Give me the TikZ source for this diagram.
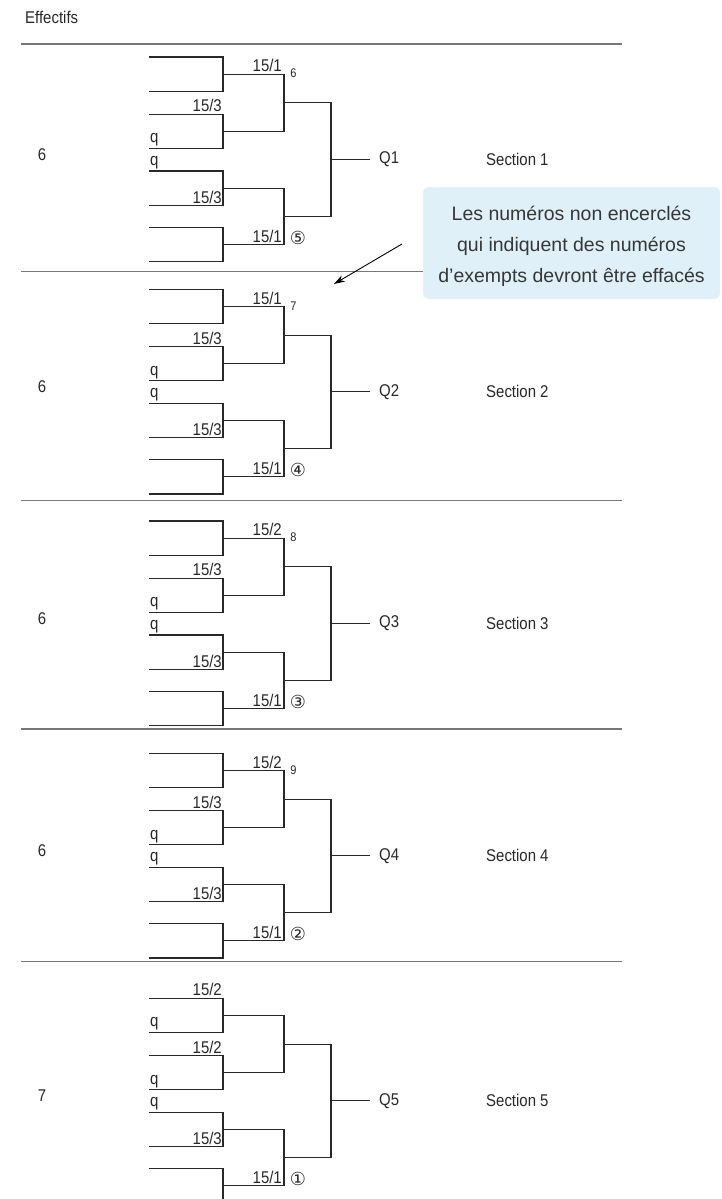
\documentclass[tikz,border=0pt]{standalone}
\usepackage{fontspec}
\setmainfont{Liberation Sans}[FakeStretch=0.88]
\newfontfamily\notefont{Liberation Sans}
\newfontfamily\circfont{DejaVu Sans}
\usetikzlibrary{arrows.meta}
\definecolor{inkline}{RGB}{40,40,40}
\definecolor{sepgray}{RGB}{120,120,120}
\definecolor{noteblue}{RGB}{223,240,249}
\definecolor{notetext}{RGB}{55,55,55}

\newcommand\bracketlines{%
  \draw[brk] (149,0) -| (223,34.4) -- (149,34.4);
  \draw[brk] (149,57.2) -| (223,91.6) -- (149,91.6);
  \draw[brk] (149,114) -| (223,148.4) -- (149,148.4);
  \draw[brk] (149,170.3) -| (223,204.7) -- (149,204.7);
  \draw[brk] (223,17.2) -| (284,74.4) -- (223,74.4);
  \draw[brk] (223,131.2) -| (284,187.5) -- (223,187.5);
  \draw[brk] (284,45.8) -| (331,159.35) -- (284,159.35);
  \draw[brk] (331,102.6) -- (370,102.6);
}

% #1 base y, #2 count, #3 index, #4 top label, #5 small number, #6 circled number
\newcommand\stdsection[6]{%
  \begin{scope}[shift={(0,#1)}]
    \bracketlines
    \node[lbl, anchor=south east] (t#3) at (282,15.2) {#4};
    \node[tiny] (n#3) at (293.5,16.5) {#5};
    \node[lbl, anchor=south east] (a#3) at (222,55.2) {15/3};
    \node[lbl, anchor=south west] (b#3) at (150,89.6) {q};
    \node[lbl, anchor=south west] (c#3) at (150,112) {q};
    \node[lbl, anchor=south east] (d#3) at (222,146.4) {15/3};
    \node[lbl, anchor=south east] (e#3) at (282,185.5) {15/1};
    \node[circ] (o#3) at (298,180.5) {#6};
    \node[lbl] (k#3) at (42,97.6) {#2};
    \node[lbl, anchor=west] (Q#3) at (379,102.6) {Q#3};
    \node[lbl, anchor=west] (S#3) at (486,102.6) {Section #3};
  \end{scope}}

\begin{document}
\begin{tikzpicture}[x=1pt,y=-1pt,
  brk/.style={draw=inkline, line width=1.1pt},
  sep/.style={draw=sepgray, line width=1.3pt},
  lbl/.style={inner sep=0pt, font=\fontsize{17}{17}\selectfont, text=inkline},
  tiny/.style={inner sep=0pt, font=\fontsize{12.5}{12.5}\selectfont, text=inkline},
  circ/.style={inner sep=0pt, font=\circfont\fontsize{18}{18}\selectfont, text=inkline},
]
\clip (0,0) rectangle (721,1199);

\node[lbl, anchor=west] (eff) at (25,17) {Effectifs};

\draw[sep] (21,44) -- (622,44);
\draw[sep] (21,271.7) -- (622,271.7);
\draw[sep] (21,500.7) -- (622,500.7);
\draw[sep] (21,729) -- (622,729);
\draw[sep] (21,961.5) -- (622,961.5);

\stdsection{57}{6}{1}{15/1}{6}{⑤}
\stdsection{289.3}{6}{2}{15/1}{7}{④}
\stdsection{521}{6}{3}{15/2}{8}{③}
\stdsection{753.3}{6}{4}{15/2}{9}{②}

\begin{scope}[shift={(0,998.3)}]
  \bracketlines
  \node[lbl, anchor=south east] (a5) at (222,-2) {15/2};
  \node[lbl, anchor=south west] (b5) at (150,32.4) {q};
  \node[lbl, anchor=south east] (c5) at (222,55.2) {15/2};
  \node[lbl, anchor=south west] (d5) at (150,89.6) {q};
  \node[lbl, anchor=south west] (f5) at (150,112) {q};
  \node[lbl, anchor=south east] (g5) at (222,146.4) {15/3};
  \node[lbl, anchor=south east] (e5) at (282,185.5) {15/1};
  \node[circ] (o5) at (298,180.5) {①};
  \node[lbl] (k5) at (42,97.6) {7};
  \node[lbl, anchor=west] (Q5) at (379,102.6) {Q5};
  \node[lbl, anchor=west] (S5) at (486,102.6) {Section 5};
\end{scope}

% callout
\node[fill=noteblue, rounded corners=6pt, minimum width=297pt, minimum height=112pt, inner sep=0pt] (note) at (571.5,243) {};
\node[align=center, inner sep=0pt, text=notetext, font=\notefont\fontsize{19.5}{31}\selectfont] (notetxt) at (571.5,246.5)
  {Les numéros non encerclés\\qui indiquent des numéros\\d’exempts devront être effacés};
\coordinate (arrS) at (402,244);
\coordinate (arrE) at (334,284);
\draw[-{Stealth[length=11pt,width=7pt]}, line width=0.9pt, draw=black] (arrS) -- (arrE);
\end{tikzpicture}
\end{document}
